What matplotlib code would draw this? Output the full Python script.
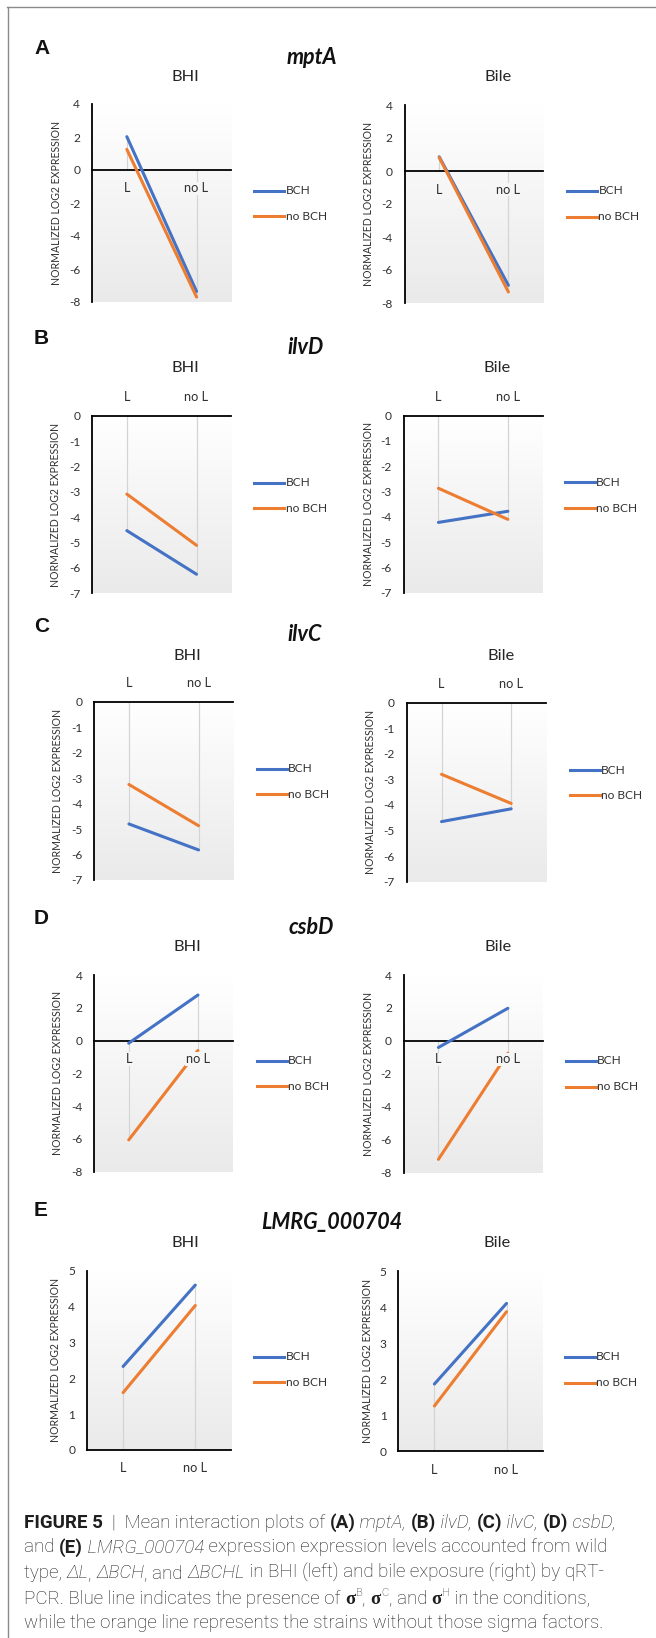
import numpy as np
import matplotlib
matplotlib.use("Agg")
import matplotlib.pyplot as plt
from matplotlib.lines import Line2D
from matplotlib.colors import LinearSegmentedColormap

# ---------------- data ----------------
categories = ["L", "no L"]
conditions = ["BHI", "Bile"]
series_names = ["BCH", "no BCH"]
genes = ["mptA", "ilvD", "ilvC", "csbD", "LMRG_000704"]
panel_letters = ["A", "B", "C", "D", "E"]

mptA_BHI_BCH = [2.02, -7.36]
mptA_BHI_noBCH = [1.25, -7.70]
mptA_Bile_BCH = [0.86, -6.93]
mptA_Bile_noBCH = [0.82, -7.33]

ilvD_BHI_BCH = [-4.53, -6.25]
ilvD_BHI_noBCH = [-3.09, -5.11]
ilvD_Bile_BCH = [-4.22, -3.78]
ilvD_Bile_noBCH = [-2.87, -4.10]

ilvC_BHI_BCH = [-4.80, -5.82]
ilvC_BHI_noBCH = [-3.25, -4.87]
ilvC_Bile_BCH = [-4.65, -4.15]
ilvC_Bile_noBCH = [-2.80, -3.94]

csbD_BHI_BCH = [-0.16, 2.78]
csbD_BHI_noBCH = [-6.06, -0.60]
csbD_Bile_BCH = [-0.40, 1.98]
csbD_Bile_noBCH = [-7.19, -0.75]

LMRG_BHI_BCH = [2.33, 4.60]
LMRG_BHI_noBCH = [1.60, 4.03]
LMRG_Bile_BCH = [1.86, 4.10]
LMRG_Bile_noBCH = [1.25, 3.87]

yticks_mptA = [-8, -6, -4, -2, 0, 2, 4]
yticks_ilvD = [-7, -6, -5, -4, -3, -2, -1, 0]
yticks_ilvC = [-7, -6, -5, -4, -3, -2, -1, 0]
yticks_csbD = [-8, -6, -4, -2, 0, 2, 4]
yticks_LMRG = [0, 1, 2, 3, 4, 5]

ylabel_text = "NORMALIZED LOG2 EXPRESSION"

values = {
    "mptA": {"BHI": [mptA_BHI_BCH, mptA_BHI_noBCH], "Bile": [mptA_Bile_BCH, mptA_Bile_noBCH]},
    "ilvD": {"BHI": [ilvD_BHI_BCH, ilvD_BHI_noBCH], "Bile": [ilvD_Bile_BCH, ilvD_Bile_noBCH]},
    "ilvC": {"BHI": [ilvC_BHI_BCH, ilvC_BHI_noBCH], "Bile": [ilvC_Bile_BCH, ilvC_Bile_noBCH]},
    "csbD": {"BHI": [csbD_BHI_BCH, csbD_BHI_noBCH], "Bile": [csbD_Bile_BCH, csbD_Bile_noBCH]},
    "LMRG_000704": {"BHI": [LMRG_BHI_BCH, LMRG_BHI_noBCH], "Bile": [LMRG_Bile_BCH, LMRG_Bile_noBCH]},
}
yticks_all = {"mptA": yticks_mptA, "ilvD": yticks_ilvD, "ilvC": yticks_ilvC,
              "csbD": yticks_csbD, "LMRG_000704": yticks_LMRG}

# ---------------- layout (pixels, top-left origin) ----------------
W, H = 656, 1638
layout = {
    "mptA": dict(axis="mid", letter_y=49, title=(311.7, 57), sub_y=77,
                 rects=[(92, 104, 231.4, 302), (404.6, 105, 543, 303)],
                 sub_x=[185.3, 497.9], leg_x=[254, 567], leg_y=[(191, 216), (191, 217)],
                 ylab_x=[56.5, 368]),
    "ilvD": dict(axis="top", letter_y=338, title=(305.4, 347), sub_y=368,
                 rects=[(92, 415.7, 231.4, 593.3), (403.7, 415.7, 542.6, 592.7)],
                 sub_x=[185.3, 497], leg_x=[254, 564.8], leg_y=[(483, 508), (482, 508)],
                 ylab_x=[55.2, 368]),
    "ilvC": dict(axis="top", letter_y=627, title=(305, 635), sub_y=656,
                 rects=[(94.1, 701.7, 233.4, 880), (406.7, 702.7, 546, 881.7)],
                 sub_x=[187.4, 501.2], leg_x=[256.5, 569.8], leg_y=[(769, 794), (770, 795)],
                 ylab_x=[57.7, 370.3]),
    "csbD": dict(axis="mid", letter_y=918, title=(311.7, 927), sub_y=947,
                 rects=[(94.1, 975, 232.6, 1171.7), (403.7, 975, 542.6, 1172.7)],
                 sub_x=[187, 497.9], leg_x=[256.5, 565.6], leg_y=[(1061, 1086), (1061, 1087)],
                 ylab_x=[57.7, 368]),
    "LMRG_000704": dict(axis="bottom", letter_y=1210, title=(331.8, 1222), sub_y=1243,
                        rects=[(87, 1270.7, 231.4, 1450), (398.3, 1271, 542.6, 1451)],
                        sub_x=[185.3, 497], leg_x=[254, 564.8], leg_y=[(1357, 1382), (1357, 1383)],
                        ylab_x=[55.2, 367.3]),
}

colors = ["#4472C4", "#ED7D31"]
CHART_FONT = ["Lato", "DejaVu Sans"]
TXT = "#303030"
BG_TOP, BG_BOT = "#ffffff", "#eaeaea"

plt.rcParams["font.family"] = CHART_FONT

fig = plt.figure(figsize=(W / 100, H / 100), dpi=100)


def fx(x):
    return x / W


def fy(y):
    return 1 - y / H


def rect(l, t, r, b):
    return [l / W, 1 - b / H, (r - l) / W, (b - t) / H]


grad_cmap = LinearSegmentedColormap.from_list("bg", [BG_TOP, BG_BOT])
grad = np.linspace(0, 1, 256).reshape(-1, 1)


def mix(frac):
    c0 = np.array(matplotlib.colors.to_rgb(BG_TOP))
    c1 = np.array(matplotlib.colors.to_rgb(BG_BOT))
    return tuple(c0 + (c1 - c0) * frac)


for gi, gene in enumerate(genes):
    lay = layout[gene]
    ticks = yticks_all[gene]
    ymin, ymax = min(ticks), max(ticks)
    # panel letter and gene title
    fig.text(fx(34), fy(lay["letter_y"]), panel_letters[gi], ha="left", va="center",
             fontsize=15, fontweight="bold", family=["Liberation Sans", "DejaVu Sans"], color="#111111")
    fig.text(fx(lay["title"][0]), fy(lay["title"][1]), gene, ha="center", va="center",
             fontsize=15.5, fontweight="bold", fontstyle="italic", family=CHART_FONT, color="#111111")
    for ci, cond in enumerate(conditions):
        ax = fig.add_axes(rect(*lay["rects"][ci]))
        ax.imshow(grad, cmap=grad_cmap, extent=[0, 1, 0, 1], transform=ax.transAxes,
                  aspect="auto", zorder=0, interpolation="bilinear")
        xpos = np.arange(len(categories)) + 0.5
        for si, sname in enumerate(series_names):
            vals = values[gene][cond][si]
            ax.vlines(xpos, 0, vals, color="#d4d4d4", lw=0.8, zorder=1)
        for si, sname in enumerate(series_names):
            vals = values[gene][cond][si]
            ax.plot(xpos, vals, color=colors[si], lw=2.2, zorder=3, solid_capstyle="round")
        ax.set_xlim(0, len(categories))
        ax.set_ylim(ymin, ymax)
        ax.set_yticks(ticks)
        ax.set_yticklabels([str(t) for t in ticks])
        ax.set_xticks(xpos)
        ax.set_xticklabels(categories)
        ax.spines["right"].set_visible(False)
        ax.spines["left"].set_linewidth(1.3)
        ax.spines["left"].set_color("black")
        if lay["axis"] == "mid":
            ax.spines["top"].set_visible(False)
            ax.spines["bottom"].set_position(("data", 0))
            lab_frac = (ymax - 0) / (ymax - ymin) + 0.09
            lab_bg = mix(lab_frac)
        elif lay["axis"] == "top":
            ax.spines["bottom"].set_visible(False)
            ax.xaxis.tick_top()
            lab_bg = (1, 1, 1)
        else:
            ax.spines["top"].set_visible(False)
            lab_bg = (1, 1, 1)
        for s in ["top", "bottom"]:
            ax.spines[s].set_linewidth(1.3)
            ax.spines[s].set_color("black")
            ax.spines[s].set_zorder(2.5)
        ax.tick_params(axis="y", length=0, labelsize=8.6, labelcolor=TXT, pad=8.5)
        ax.tick_params(axis="x", length=0, labelsize=9.2, labelcolor=TXT, pad=9)
        for lab in ax.get_xticklabels():
            lab.set_bbox(dict(facecolor=lab_bg, edgecolor="none", pad=0.6))
        ax.xaxis.set_zorder(3.5)
        l, t, r, b = lay["rects"][ci]
        ax.set_ylabel(ylabel_text, fontsize=7.6, color=TXT, va="center")
        ax.yaxis.set_label_coords((lay["ylab_x"][ci] - l) / (r - l), 0.5)
        # condition subtitle
        fig.text(fx(lay["sub_x"][ci]), fy(lay["sub_y"]), cond, ha="center", va="center",
                 fontsize=11.8, color="#262626")
        # legend
        lx = lay["leg_x"][ci]
        for si, sname in enumerate(series_names):
            ly = lay["leg_y"][ci][si]
            fig.add_artist(Line2D([fx(lx), fx(lx + 30)], [fy(ly), fy(ly)],
                                  color=colors[si], lw=2.2, transform=fig.transFigure))
            fig.text(fx(lx + 31.5), fy(ly), sname, ha="left", va="center",
                     fontsize=8.6, color=TXT)

# frame lines
fig.add_artist(Line2D([fx(7), 1.0], [fy(7), fy(7)], color="#8a8a8a", lw=1.0, transform=fig.transFigure))
fig.add_artist(Line2D([fx(7.5), fx(7.5)], [fy(7), 0.0], color="#8a8a8a", lw=1.0, transform=fig.transFigure))

# ---------------- caption ----------------
renderer = fig.canvas.get_renderer()
CAP_FAM = ["Roboto", "DejaVu Sans"]
STY = {
    "r": dict(family=CAP_FAM, fontweight="light"),
    "i": dict(family=CAP_FAM, fontweight="light", fontstyle="italic"),
    "b": dict(family=CAP_FAM, fontweight="bold"),
    "s": dict(family=["Liberation Serif", "DejaVu Serif"], fontweight="bold"),
    "u": dict(family=CAP_FAM, fontweight="light"),
}

caption_lines = [
    [("FIGURE 5", "b"), ("  |  Mean interaction plots of ", "r"), ("(A)", "b"), (" mptA, ", "i"),
     ("(B)", "b"), (" ilvD, ", "i"), ("(C)", "b"), (" ilvC, ", "i"), ("(D)", "b"), (" csbD,", "i")],
    [("and ", "r"), ("(E)", "b"), (" LMRG_000704", "i"), (" expression expression levels accounted from wild", "r")],
    [("type, ", "r"), ("\u0394L", "i"), (", ", "r"), ("\u0394BCH", "i"), (", and ", "r"), ("\u0394BCHL", "i"),
     (" in BHI (left) and bile exposure (right) by qRT-", "r")],
    [("PCR. Blue line indicates the presence of ", "r"), ("\u03c3", "s"), ("B", "u"), (", ", "r"),
     ("\u03c3", "s"), ("C", "u"), (", and ", "r"), ("\u03c3", "s"), ("H", "u"), (" in the conditions,", "r")],
    [("while the orange line represents the strains without those sigma factors.", "r")],
]
cap_baselines = [1527.5, 1552.5, 1578, 1603.5, 1628.5]
cap_right = [631.7, 610.8, 606.6, 601.2, 596.2]
cap_left = 24.0
FS0 = 11.3


def seg_width(s, fs, sty):
    t1 = fig.text(0, 0, "|" + s + "|", fontsize=fs, **STY[sty])
    t2 = fig.text(0, 0, "||", fontsize=fs, **STY[sty])
    w = t1.get_window_extent(renderer).width - t2.get_window_extent(renderer).width
    t1.remove()
    t2.remove()
    return w


def seg_size(fs, sty):
    return fs * 0.6 if sty == "u" else fs


def line_width(segs, fs):
    return sum(seg_width(s, seg_size(fs, st), st) for s, st in segs)


scales = []
for segs, xr in zip(caption_lines, cap_right):
    scales.append((xr - cap_left) / line_width(segs, FS0))
scale = float(np.median(scales))
fs = FS0 * scale

for segs, yb in zip(caption_lines, cap_baselines):
    x = cap_left
    for s, st in segs:
        size = seg_size(fs, st)
        yy = yb - (fs * 100 / 72 * 0.42 if st == "u" else 0)
        fig.text(fx(x), fy(yy), s, fontsize=size, ha="left", va="baseline", color="#1e1e1e", **STY[st])
        x += seg_width(s, size, st)
        if st == "s":
            x += 0.5

fig.savefig("out.png", dpi=100)
